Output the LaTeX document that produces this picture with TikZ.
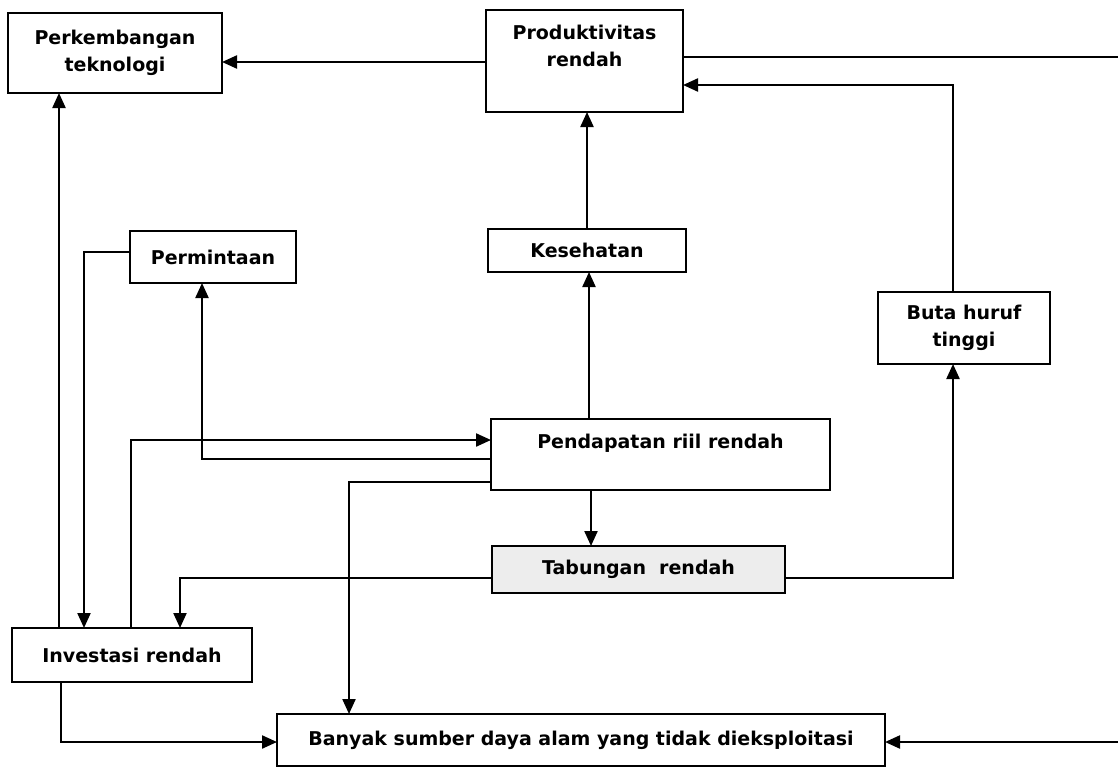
\documentclass[tikz,border=0pt]{standalone}
\usepackage{fontspec}
\setmainfont{DejaVu Sans}
\usetikzlibrary{arrows.meta}
\begin{document}
\begin{tikzpicture}[x=1pt,y=-1pt,
  box/.style={draw, line width=2.4pt, anchor=north west, inner sep=0pt, outer sep=0pt,
    align=center, font=\bfseries\fontsize{19}{27}\selectfont},
  conn/.style={line width=2.2pt},
  arr/.style={conn, -{Triangle[length=15pt,width=13pt]}}]
\useasboundingbox (0,0) rectangle (1118,768);
\fill[white] (0,0) rectangle (1118,768);
% boxes
\node[box, minimum width=214pt, minimum height=80pt] (perk) at (8,13) {Perkembangan\\teknologi};
\node[box, minimum width=197pt, minimum height=102pt,
  label={[font=\bfseries\fontsize{19}{27}\selectfont, align=center, yshift=15pt]center:Produktivitas\\rendah}] (prod) at (486,10) {};
\node[box, minimum width=166pt, minimum height=52pt] (perm) at (130,231) {Permintaan};
\node[box, minimum width=198pt, minimum height=43pt] (kes) at (488,229) {Kesehatan};
\node[box, minimum width=172pt, minimum height=72pt] (buta) at (878,292) {Buta huruf\\tinggi};
\node[box, minimum width=339pt, minimum height=71pt,
  label={[font=\bfseries\fontsize{19}{27}\selectfont, yshift=11pt]center:Pendapatan riil rendah}] (pend) at (491,419) {};
\node[box, minimum width=293pt, minimum height=47pt, fill=black!7] (tab) at (492,546) {Tabungan\ \ rendah};
\node[box, minimum width=240pt, minimum height=54pt] (inv) at (12,628) {Investasi rendah};
\node[box, minimum width=608pt, minimum height=52pt] (ban) at (277,714) {Banyak sumber daya alam yang tidak dieksploitasi};
% connectors
\coordinate (rt) at (1124,57);
\draw[arr] (prod.west |- 0,62) -- (perk.east |- 0,62);
\draw[arr] (prod.east |- 0,57) -- (rt) |- (ban.east |- 0,742);
\draw[arr] (buta.north -| 953,0) |- (prod.east |- 0,85);
\draw[arr] (kes.north -| 587,0) -- (prod.south -| 587,0);
\draw[arr] (pend.north -| 589,0) -- (kes.south -| 589,0);
\draw[arr] (pend.south -| 591,0) -- (tab.north -| 591,0);
\draw[arr] (tab.east |- 0,578) -| (buta.south -| 953,0);
\draw[arr] (tab.west |- 0,578) -| (inv.north -| 180,0);
\draw[arr] (pend.west |- 0,459) -| (perm.south -| 202,0);
\draw[arr] (perm.west |- 0,252) -| (inv.north -| 84,0);
\draw[arr] (inv.north -| 59,0) -- (perk.south -| 59,0);
\draw[arr] (inv.north -| 131,0) |- (pend.west |- 0,440);
\draw[arr] (inv.south -| 61,0) |- (ban.west |- 0,742);
\draw[arr] (pend.west |- 0,482) -| (ban.north -| 349,0);
\end{tikzpicture}
\end{document}
